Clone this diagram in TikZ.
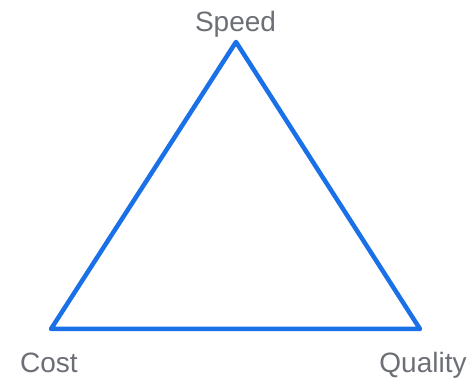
\documentclass[tikz,border=0pt]{standalone}
\usepackage{fontspec}
\setmainfont{Liberation Sans}
\usepackage{xcolor}
\usepackage{tikz}
\definecolor{triblue}{RGB}{26,112,230}
\definecolor{labelgray}{RGB}{108,111,117}

\begin{document}
\begin{tikzpicture}[x=1pt, y=1pt, every node/.style={text=labelgray, anchor=base, inner sep=0pt, font=\fontsize{28}{32}\selectfont}, edge/.style={draw=triblue, line width=4.5pt, line join=round, line cap=round}]
  \useasboundingbox (0,0) rectangle (472,379);
  \coordinate (speed) at (236,337);
  \coordinate (cost) at (51,50);
  \coordinate (quality) at (420,50);
  \node (speedlabel) at (235.5,347) {Speed};
  \node (costlabel) at (49,6) {Cost};
  \node (qualitylabel) at (423,6) {Quality};
  \draw [edge] (speed) -- (quality) -- (cost) -- cycle;
\end{tikzpicture}
\end{document}
